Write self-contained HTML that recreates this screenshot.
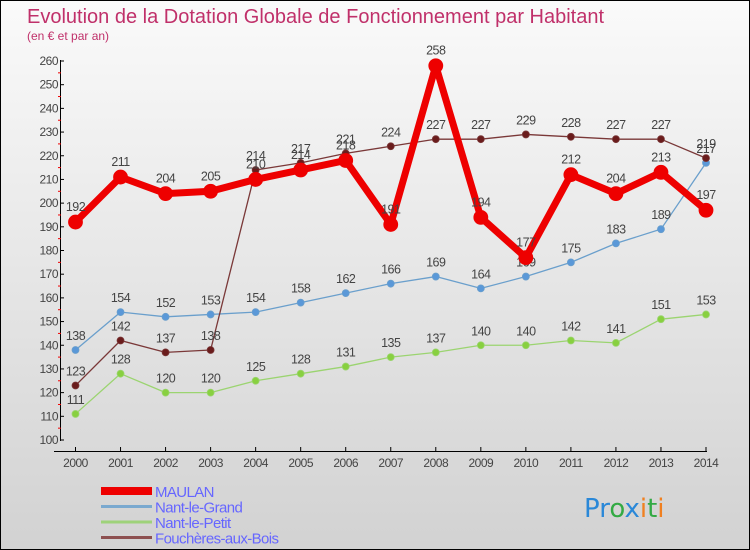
<!DOCTYPE html>
<html><head><meta charset="utf-8"><style>
body{margin:0}
#c{width:748px;height:548px;border:1px solid #000;background:linear-gradient(#fafafa,#d2d2d2);position:relative;font-family:"Liberation Sans",sans-serif;overflow:hidden}
</style></head><body>
<div id="c">
<svg id="s" width="748" height="548" xmlns="http://www.w3.org/2000/svg"></svg>
</div>
<script>
const years=[2000,2001,2002,2003,2004,2005,2006,2007,2008,2009,2010,2011,2012,2013,2014];
const maulan=[192,211,204,205,210,214,218,191,258,194,177,212,204,213,197];
const nantGrand=[138,154,152,153,154,158,162,166,169,164,169,175,183,189,217];
const nantPetit=[111,128,120,120,125,128,131,135,137,140,140,142,141,151,153];
const fouch=[123,142,137,138,214,217,221,224,227,227,229,228,227,227,219];
const yTicks=[100,110,120,130,140,150,160,170,180,190,200,210,220,230,240,250,260];
const NS="http://www.w3.org/2000/svg";
const s=document.getElementById('s');
const X=i=>74.5+i*(705-74.5)/14;
const Y=v=>439-(v-100)*(379/160);
function el(t,a,txt){const e=document.createElementNS(NS,t);for(const k in a)e.setAttribute(k,a[k]);if(txt!=null)e.textContent=txt;s.appendChild(e);return e;}
let e;
e=el('text',{x:26,y:22,'font-size':20,fill:'#c0306a'},'Evolution de la Dotation Globale de Fonctionnement par Habitant');

e=el('text',{x:26,y:39,'font-size':12,fill:'#c0306a'},'(en € et par an)');

e=el('line',{x1:59.5,y1:59,x2:59.5,y2:440,stroke:'#000'});

e=el('line',{x1:53,y1:450.5,x2:706,y2:450.5,stroke:'#000'});

yTicks.forEach(v=>{
 el('line',{x1:59,y1:Y(v),x2:63,y2:Y(v),stroke:'#000'});
 if(v<260)el('line',{x1:57,y1:Y(v+5),x2:60,y2:Y(v+5),stroke:'#e00'});
 e=el('text',{x:57,y:Y(v)+4,'font-size':12,fill:'#444','text-anchor':'end','letter-spacing':'-0.5'},v);
 
});
years.forEach((y,i)=>{
 el('line',{x1:X(i),y1:446,x2:X(i),y2:451,stroke:'#000'});
 e=el('text',{x:X(i),y:466,'font-size':12,fill:'#444','text-anchor':'middle','letter-spacing':'-0.5'},y);
 
});
function series(data,name,col,dot,w,r,labDy){
 const g=el('g',{});
 
 const l=document.createElementNS(NS,'polyline');
 l.setAttribute('points',data.map((v,i)=>X(i)+','+Y(v)).join(' '));
 l.setAttribute('fill','none');l.setAttribute('stroke',col);l.setAttribute('stroke-width',w);l.setAttribute('stroke-linejoin','round');
 
 g.appendChild(l);
 data.forEach((v,i)=>{
  const c=document.createElementNS(NS,'circle');
  c.setAttribute('cx',X(i));c.setAttribute('cy',Y(v));c.setAttribute('r',r);c.setAttribute('fill',dot);c.setAttribute('stroke',col);c.setAttribute('stroke-width',0.8);
  
  g.appendChild(c);
  const t=document.createElementNS(NS,'text');
  t.setAttribute('x',X(i));t.setAttribute('y',Y(v)+labDy);t.setAttribute('font-size',12.5);t.setAttribute('fill','#444');t.setAttribute('text-anchor','middle');t.setAttribute('letter-spacing','-0.5');
  t.textContent=v;
  
  g.appendChild(t);
 });
}
series(nantPetit,'nant-le-petit','#9bd470','#88d040',1.3,3.5,-10);
series(nantGrand,'nant-le-grand','#6a9fcc','#5a98d8',1.3,3.5,-10);
series(fouch,'foucheres-aux-bois','#7a3838','#6a1c1c',1.3,3.5,-10);
series(maulan,'maulan','#ee0000','#ee0000',7,7,-11);
const leg=[['MAULAN','#ee0000',8],['Nant-le-Grand','#7aa9cf',3],['Nant-le-Petit','#9ed27a',3],['Fouchères-aux-Bois','#8d5050',3]];
leg.forEach((L,i)=>{
 const y=490+i*15.5;
 e=el('line',{x1:100,y1:y,x2:151,y2:y,stroke:L[1],'stroke-width':L[2]});
 
 e=el('text',{x:154,y:y+6,'font-size':15,fill:'#6666ff','letter-spacing':'-0.6'},L[0]);
 
});
const lg=el('text',{x:583,y:516,'font-size':26,'font-family':'DejaVu Sans,sans-serif'});

[['Pr','#2a88d8'],['o','#33aa44'],['x','#2a88d8'],['i','#f08020'],['t','#33aa44'],['i','#f08020']].forEach(p=>{const t=document.createElementNS(NS,'tspan');t.setAttribute('fill',p[1]);t.textContent=p[0];lg.appendChild(t);});
</script>
</body></html>
